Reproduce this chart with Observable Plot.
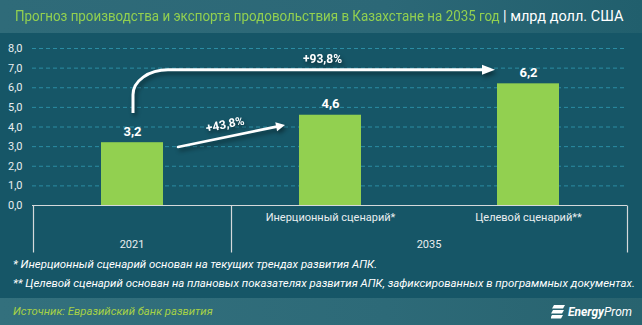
<!DOCTYPE html>
<html>
<head>
<meta charset="utf-8">
<script src="https://cdn.jsdelivr.net/npm/d3@7"></script>
<script src="https://cdn.jsdelivr.net/npm/@observablehq/plot@0.6"></script>
<style>
  html, body { margin: 0; padding: 0; }
  body { width: 642px; height: 325px; overflow: hidden; background: #165667; font-family: Roboto, "Noto Sans", sans-serif; }
  #wrap { position: relative; width: 642px; height: 325px; background: #165667; }
  #header { position: absolute; left: 0; top: 0; width: 642px; height: 33px;
    background: linear-gradient(90deg, #2f6b79 0%, #2c6877 60%, #215f6d 100%); overflow: hidden; }
  #header .line { position: absolute; left: 15px; top: 0; line-height: 33px; white-space: nowrap;
    font-family: Roboto, sans-serif; font-size: 15px; transform: scaleX(0.89); transform-origin: 0 50%; color: #92d050; }
  #header .unit { position: absolute; left: 503px; top: 0; line-height: 33px; white-space: nowrap;
    font-family: Roboto, sans-serif; font-size: 14.5px; color: #ffffff; }
  #chart { position: absolute; left: 0; top: 33px; }
  .note { position: absolute; left: 13px; color: #ffffff; font-style: italic; font-size: 11.4px; white-space: nowrap; font-family: Roboto, sans-serif; }
  #footer { position: absolute; left: 0; top: 298px; width: 642px; height: 27px;
    background: linear-gradient(90deg, #33707d 0%, #2d6a78 60%, #28636f 100%); }
  #source { position: absolute; left: 13px; top: 0; line-height: 27px; color: #a6d146; font-style: italic; font-size: 11.3px; font-family: Roboto, sans-serif; }
  #logo { position: absolute; right: 10px; top: 6px; height: 16px; display: flex; align-items: center; color: #fff; font-style: italic; font-size: 12px; font-family: Roboto, sans-serif; }
  #logo b { font-weight: 700; }
</style>
</head>
<body>
<div id="wrap">
  <div id="header"><div class="line" id="titleLine"></div><div class="unit" id="unitLine"></div></div>
  <div id="chart"></div>
  <div class="note" id="n1" style="top:257px"></div>
  <div class="note" id="n2" style="top:276px"></div>
  <div id="footer">
    <div id="source"></div>
    <div id="logo">
      <svg width="14" height="14" viewBox="0 0 14 14" style="margin-right:3px">
        <polygon points="3,0 14,0 12,3.6 1,3.6" fill="#fff"/>
        <polygon points="2,5 13,5 11,8.6 0,8.6" fill="#fff"/>
        <polygon points="1,10 12,10 10,13.6 -1,13.6" fill="#fff"/>
      </svg>
      <span><b>Energy</b>Prom</span>
    </div>
  </div>
</div>
<script>
// ---- Data ----
const titleText = "Прогноз производства и экспорта продовольствия в Казахстане на 2035 год";
const unitText = "млрд долл. США";
const categories = ["2021", "Инерционный сценарий*", "Целевой сценарий**"];
const groups = ["2021", "2035", "2035"];
const values = [3.2, 4.6, 6.2];
const valueLabels = ["3,2", "4,6", "6,2"];
const yTicks = [0, 1, 2, 3, 4, 5, 6, 7, 8];
const growthLabels = ["+43,8%", "+93,8%"];
const footnotes = [
  "* Инерционный сценарий основан на текущих трендах развития АПК.",
  "** Целевой сценарий основан на плановых показателях развития АПК, зафиксированных в программных документах."
];
const sourceText = "Источник: Евразийский банк развития";

// ---- Text blocks ----
document.getElementById("titleLine").textContent = titleText;
document.getElementById("unitLine").textContent = "| " + unitText;
document.getElementById("n1").textContent = footnotes[0];
document.getElementById("n2").textContent = footnotes[1];
document.getElementById("source").textContent = sourceText;

const data = categories.map((c, i) => ({category: c, group: groups[i], value: values[i], label: valueLabels[i]}));

const axisColor = "#d5d9db";
const textColor = "#e9eef0";

// Bottom two-level category axis, drawn from the plot's scales
function bottomAxis(index, scales) {
  const x = scales.x, y = scales.y;
  const bw = x.bandwidth();
  const [r0, r1] = x.range();
  const y0 = Math.round(y(0)) + 0.5;
  const g = d3.create("svg:g");
  g.append("line").attr("x1", r0).attr("x2", r1).attr("y1", y0).attr("y2", y0)
    .attr("stroke", axisColor).attr("stroke-width", 1.2);
  const groupNames = Array.from(new Set(groups));
  const edges = [];
  groupNames.forEach(name => {
    const cats = categories.filter((c, i) => groups[i] === name);
    const s = d3.min(cats, c => x(c));
    const e = d3.max(cats, c => x(c) + bw);
    edges.push(s, e);
    g.append("text").attr("x", (s + e) / 2).attr("y", y0 + 39)
      .attr("text-anchor", "middle").attr("dy", "0.35em")
      .attr("fill", textColor).attr("font-size", 11).attr("font-family", "Roboto, sans-serif")
      .text(name);
  });
  Array.from(new Set(edges.map(v => Math.round(v)))).forEach(ex => {
    g.append("line").attr("x1", ex + 0.5).attr("x2", ex + 0.5).attr("y1", y0).attr("y2", y0 + 47)
      .attr("stroke", axisColor).attr("stroke-width", 1.2);
  });
  return g.node();
}

// Growth arrows, anchored to bars through the scales
function growthArrows(index, scales) {
  const x = scales.x, y = scales.y;
  const bw = x.bandwidth();
  const xc = c => x(c) + bw / 2;
  const g = d3.create("svg:g").attr("style", "filter: drop-shadow(2px 3px 2px rgba(0,0,0,0.45))");
  const head = (tx, ty, ang, len, half) => {
    const ca = Math.cos(ang), sa = Math.sin(ang);
    const bx = tx - len * ca, by = ty - len * sa;
    return `${tx},${ty} ${bx - half * sa},${by + half * ca} ${bx + half * sa},${by - half * ca}`;
  };
  // Arrow 1: 2021 -> inertial scenario
  const ax = xc(categories[0]) + 46, ay = y(2.96);
  const bx = xc(categories[1]) - 45, by = y(4.08);
  const ang = Math.atan2(by - ay, bx - ax);
  const ex = bx - 6 * Math.cos(ang), ey = by - 6 * Math.sin(ang);
  g.append("line").attr("x1", ax).attr("y1", ay).attr("x2", ex).attr("y2", ey)
    .attr("stroke", "#fff").attr("stroke-width", 2.6).attr("stroke-linecap", "round");
  g.append("polygon").attr("points", head(bx, by, ang, 9, 4.5)).attr("fill", "#fff");
  const mx = (ax + bx) / 2, my = (ay + by) / 2;
  const deg = ang * 180 / Math.PI;
  g.append("text").attr("transform", `translate(${mx - 12 * Math.sin(-ang) - 4},${my - 12 * Math.cos(ang)}) rotate(${deg})`)
    .attr("text-anchor", "middle").attr("dy", "0.35em")
    .attr("fill", "#fff").attr("font-weight", "bold").attr("font-size", 12).attr("font-family", "Roboto, sans-serif")
    .text(growthLabels[0]);
  // Arrow 2: 2021 -> target scenario (curved)
  const x0 = xc(categories[0]) + 1, y0 = y(4.69);
  const yl = y(6.89);
  const xe = xc(categories[2]) - 33;
  const rx = 35, ry = 25;
  g.append("path")
    .attr("d", `M${x0},${y0} L${x0},${yl + ry} A${rx},${ry} 0 0 1 ${x0 + rx},${yl} L${xe - 12},${yl}`)
    .attr("fill", "none").attr("stroke", "#fff").attr("stroke-width", 3);
  g.append("polygon").attr("points", head(xe, yl, 0, 13, 5)).attr("fill", "#fff");
  g.append("text").attr("x", (x0 + rx + xe) / 2 - 9).attr("y", yl - 11).attr("dy", "0.35em")
    .attr("text-anchor", "middle")
    .attr("fill", "#fff").attr("font-weight", "bold").attr("font-size", 12).attr("font-family", "Roboto, sans-serif")
    .text(growthLabels[1]);
  return g.node();
}

const chart = Plot.plot({
  width: 642,
  height: 225,
  marginTop: 15,
  marginBottom: 53,
  marginLeft: 32,
  marginRight: 15,
  style: {background: "transparent", color: textColor, fontFamily: "Roboto, sans-serif", fontSize: "11px", overflow: "visible"},
  x: {domain: categories, padding: 0, axis: null},
  y: {domain: [0, 8], ticks: yTicks, tickFormat: d => d.toFixed(1).replace(".", ","), tickSize: 0, tickPadding: 10, label: null},
  marks: [
    Plot.gridY(yTicks.filter(d => d > 0), {stroke: "#2b8ca3", strokeOpacity: 1, strokeDasharray: "4,3", strokeWidth: 1}),
    Plot.barY(data, {x: "category", y: "value", fill: "#92d050", insetLeft: 68, insetRight: 68,
      style: "filter: drop-shadow(4px 2px 3px rgba(0,0,0,0.4))"}),
    Plot.text(data, {x: "category", y: "value", text: "label", dy: -7, lineAnchor: "bottom",
      fill: "#ffffff", fontWeight: "bold", fontSize: 13}),
    Plot.text(data.filter(d => d.category !== d.group), {x: "category", text: "category", frameAnchor: "bottom",
      dy: 15, fill: textColor, fontSize: 11}),
    bottomAxis,
    growthArrows
  ]
});
document.getElementById("chart").appendChild(chart);
</script>
</body>
</html>
